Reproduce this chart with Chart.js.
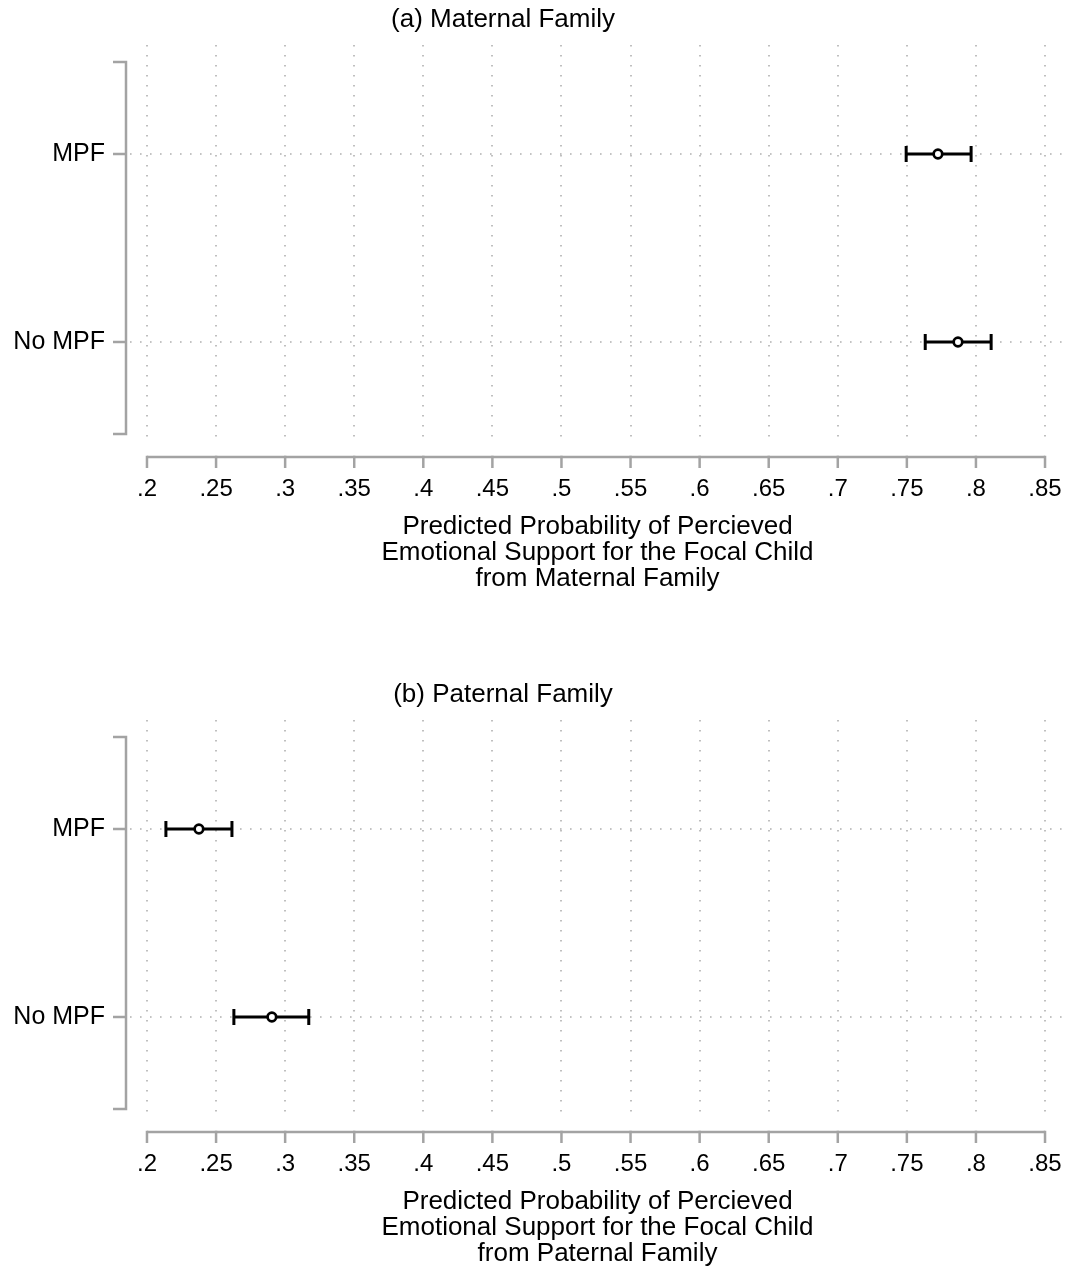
<!DOCTYPE html>
<html>
<head>
<meta charset="utf-8">
<script src="https://cdn.jsdelivr.net/npm/chart.js@4.4.1/dist/chart.umd.min.js"></script>
<style>
  html, body { margin: 0; padding: 0; background: #fff; }
  .panel { position: absolute; left: 0; width: 1072px; height: 596px; }
  #panelA { top: 0; }
  #panelB { top: 675px; }
</style>
</head>
<body>
<div class="panel" id="panelA"><canvas id="chartA" width="1072" height="596"></canvas></div>
<div class="panel" id="panelB"><canvas id="chartB" width="1072" height="596"></canvas></div>
<script>
// categories by y position: 0 = bottom row, 1 = top row
const categories = ['No MPF', 'MPF'];
const xTicks = [0.2, 0.25, 0.3, 0.35, 0.4, 0.45, 0.5, 0.55, 0.6, 0.65, 0.7, 0.75, 0.8, 0.85];

const maternalEst = [0.787, 0.7725];
const maternalLow = [0.7633, 0.7495];
const maternalHigh = [0.811, 0.7965];

const paternalEst = [0.2904, 0.2376];
const paternalLow = [0.2629, 0.2137];
const paternalHigh = [0.3171, 0.2615];

const FONT = "'Liberation Sans', Arial, Helvetica, sans-serif";
const AXIS_GRAY = '#a3a3a3';

function fmtTick(v) {
    return parseFloat(v.toFixed(2)).toString().replace(/^0\./, '.');
}

// grid, axes, error bars and panel title
const stataPlugin = {
    id: 'stataLook',
    beforeDatasetsDraw(chart, args, opts) {
        const ctx = chart.ctx;
        const xs = chart.scales.x, ys = chart.scales.y;
        const area = chart.chartArea;

        ctx.save();
        // dotted grid
        ctx.strokeStyle = '#b0b0b0';
        ctx.lineWidth = 1.6;
        ctx.setLineDash([1.6, 8.4]);
        xTicks.forEach(v => {
            const px = Math.round(xs.getPixelForValue(v));
            ctx.beginPath();
            ctx.moveTo(px, area.top);
            ctx.lineTo(px, area.bottom);
            ctx.stroke();
        });
        categories.forEach((c, i) => {
            const py = Math.round(ys.getPixelForValue(i));
            ctx.beginPath();
            ctx.moveTo(area.left, py);
            ctx.lineTo(area.right, py);
            ctx.stroke();
        });
        ctx.setLineDash([]);

        // x axis
        ctx.strokeStyle = AXIS_GRAY;
        ctx.lineWidth = 2.5;
        const axY = area.bottom + 12;
        ctx.beginPath();
        ctx.moveTo(xs.getPixelForValue(xTicks[0]), axY);
        ctx.lineTo(xs.getPixelForValue(xTicks[xTicks.length - 1]), axY);
        ctx.stroke();
        xTicks.forEach(v => {
            const px = xs.getPixelForValue(v);
            ctx.beginPath();
            ctx.moveTo(px, axY - 1.25);
            ctx.lineTo(px, axY + 11);
            ctx.stroke();
        });

        // y axis bracket
        const axX = area.left - 4;
        const yTop = ys.getPixelForValue(1.49), yBot = ys.getPixelForValue(-0.49);
        ctx.beginPath();
        ctx.moveTo(axX - 13, yTop);
        ctx.lineTo(axX, yTop);
        ctx.lineTo(axX, yBot);
        ctx.lineTo(axX - 13, yBot);
        ctx.stroke();
        categories.forEach((c, i) => {
            const py = ys.getPixelForValue(i);
            ctx.beginPath();
            ctx.moveTo(axX - 13, py);
            ctx.lineTo(axX, py);
            ctx.stroke();
        });

        // error bars
        ctx.strokeStyle = '#000';
        ctx.lineWidth = 3;
        opts.low.forEach((lo, i) => {
            const hi = opts.high[i];
            const py = ys.getPixelForValue(i);
            const x1 = xs.getPixelForValue(lo), x2 = xs.getPixelForValue(hi);
            ctx.beginPath();
            ctx.moveTo(x1, py);
            ctx.lineTo(x2, py);
            ctx.moveTo(x1, py - 8);
            ctx.lineTo(x1, py + 8);
            ctx.moveTo(x2, py - 8);
            ctx.lineTo(x2, py + 8);
            ctx.stroke();
        });

        // panel title
        ctx.fillStyle = '#000';
        ctx.font = '26px ' + FONT;
        ctx.textAlign = 'center';
        ctx.textBaseline = 'middle';
        ctx.fillText(opts.title, 503, 20);
        ctx.restore();
    }
};

function makeChart(canvasId, est, low, high, title, axisTitle) {
    const ctx = document.getElementById(canvasId).getContext('2d');
    return new Chart(ctx, {
        type: 'scatter',
        data: {
            datasets: [{
                data: est.map((v, i) => ({ x: v, y: i })),
                pointStyle: 'circle',
                pointRadius: 4.3,
                pointBorderWidth: 2.7,
                pointBackgroundColor: '#fff',
                pointBorderColor: '#000'
            }]
        },
        options: {
            responsive: false,
            animation: false,
            layout: { padding: { left: 0, right: 6, top: 45, bottom: 0 } },
            plugins: {
                legend: { display: false },
                title: { display: false },
                tooltip: { enabled: false },
                stataLook: { low: low, high: high, title: title }
            },
            scales: {
                x: {
                    type: 'linear',
                    min: 0.18771,
                    max: 0.86446,
                    afterBuildTicks: s => { s.ticks = xTicks.map(v => ({ value: v })); },
                    afterFit: s => { s.height = 151; s.paddingLeft = 0; s.paddingRight = 0; },
                    grid: { display: false, drawTicks: false },
                    border: { display: false },
                    ticks: {
                        padding: 30,
                        color: '#000',
                        font: { family: FONT, size: 24 },
                        maxRotation: 0,
                        autoSkip: false,
                        callback: v => fmtTick(v)
                    },
                    title: {
                        display: true,
                        text: axisTitle,
                        color: '#000',
                        font: { family: FONT, size: 26, lineHeight: 1 },
                        padding: { top: 0, bottom: 4 }
                    }
                },
                y: {
                    type: 'linear',
                    min: -0.5479,
                    max: 1.5798,
                    afterBuildTicks: s => { s.ticks = categories.map((c, i) => ({ value: i })); },
                    afterFit: s => { s.width = 130; s.paddingTop = 0; s.paddingBottom = 0; },
                    grid: { display: false, drawTicks: false },
                    border: { display: false },
                    ticks: {
                        padding: 25,
                        color: '#000',
                        font: { family: FONT, size: 25 },
                        callback: v => categories[v]
                    }
                }
            }
        },
        plugins: [stataPlugin]
    });
}

makeChart('chartA', maternalEst, maternalLow, maternalHigh, '(a) Maternal Family',
    ['Predicted Probability of Percieved', 'Emotional Support for the Focal Child', 'from Maternal Family']);
makeChart('chartB', paternalEst, paternalLow, paternalHigh, '(b) Paternal Family',
    ['Predicted Probability of Percieved', 'Emotional Support for the Focal Child', 'from Paternal Family']);
</script>
</body>
</html>
